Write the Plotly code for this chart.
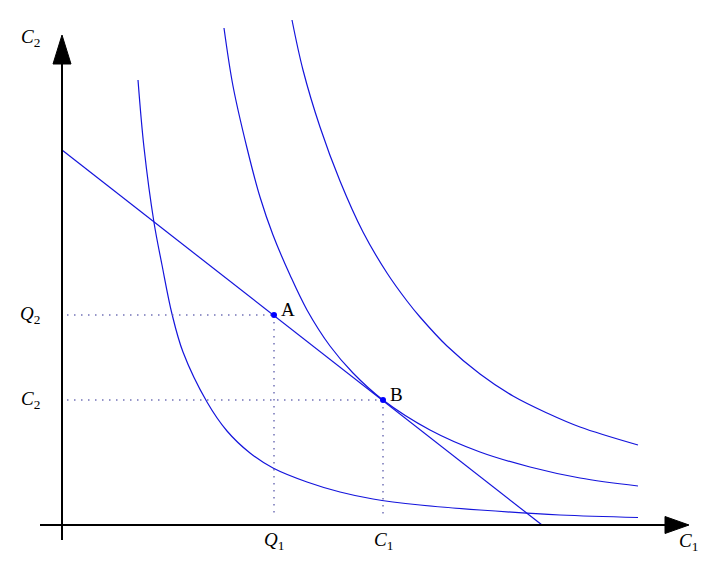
import plotly.graph_objects as go

# indifference curves (C1, C2)
curve_low_x = [1.52, 1.64, 1.84, 2.00, 2.20, 2.42, 2.90, 3.30, 3.76, 4.22, 4.90, 5.56,
               6.22, 7.16, 8.36, 9.96, 11.52]
curve_low_y = [8.90, 7.55, 6.05, 5.20, 4.22, 3.46, 2.46, 1.88, 1.44, 1.14, 0.86, 0.66,
               0.52, 0.40, 0.30, 0.20, 0.15]

curve_mid_x = [3.24, 3.42, 3.70, 3.96, 4.22, 4.56, 4.90, 5.36, 5.82, 6.42, 7.36, 8.36,
               9.36, 10.36, 11.52]
curve_mid_y = [9.94, 8.78, 7.54, 6.56, 5.80, 5.00, 4.30, 3.58, 3.04, 2.50, 1.90, 1.46,
               1.16, 0.94, 0.78]

curve_high_x = [4.60, 4.82, 5.16, 5.56, 6.02, 6.50, 6.90, 7.16, 7.70, 8.36, 9.02, 9.70,
                10.36, 11.52]
curve_high_y = [10.10, 9.10, 7.96, 6.88, 5.86, 5.04, 4.48, 4.16, 3.58, 3.02, 2.58, 2.24,
                1.96, 1.60]

# budget line
budget_x = [0.0, 9.6]
budget_y = [7.5, 0.0]

# points A and B
point_names = ["A", "B"]
point_x = [4.24, 6.42]
point_y = [4.20, 2.50]
x_tick_labels = ["<i>Q</i><sub>1</sub>", "<i>C</i><sub>1</sub>"]
y_tick_labels = ["<i>Q</i><sub>2</sub>", "<i>C</i><sub>2</sub>"]

BLUE = "#1414dc"
DOT = "rgba(100,100,175,0.9)"
FONT = dict(family="Liberation Serif, DejaVu Serif, serif", size=19, color="black")

fig = go.Figure()

for xs, ys in [(curve_low_x, curve_low_y), (curve_mid_x, curve_mid_y),
               (curve_high_x, curve_high_y), (budget_x, budget_y)]:
    fig.add_trace(go.Scatter(
        x=xs, y=ys, mode="lines",
        line=dict(color=BLUE, width=1.2, shape="spline", smoothing=1.0),
        hoverinfo="skip", showlegend=False,
    ))

# dotted guide lines
for px, py in zip(point_x, point_y):
    fig.add_trace(go.Scatter(
        x=[0.1, px], y=[py, py], mode="lines",
        line=dict(color=DOT, width=1.5, dash="1.5px,5.5px"), hoverinfo="skip", showlegend=False,
    ))
    fig.add_trace(go.Scatter(
        x=[px, px], y=[py, 0.14], mode="lines",
        line=dict(color=DOT, width=1.5, dash="1.5px,5.5px"), hoverinfo="skip", showlegend=False,
    ))

fig.add_trace(go.Scatter(
    x=point_x, y=point_y, mode="markers",
    marker=dict(color="#0000ff", size=6), showlegend=False,
))

# axes with arrow heads
fig.add_shape(type="line", x0=-0.44, y0=0, x1=12.15, y1=0, line=dict(color="black", width=2))
fig.add_shape(type="line", x0=0, y0=-0.3, x1=0, y1=9.25, line=dict(color="black", width=2))
fig.add_shape(type="path", path="M 12.06 -0.17 L 12.54 0 L 12.06 0.17 Z",
              fillcolor="black", line=dict(color="black", width=1))
fig.add_shape(type="path", path="M -0.18 9.22 L 0 9.8 L 0.18 9.22 Z",
              fillcolor="black", line=dict(color="black", width=1))

# labels
fig.add_annotation(x=-0.64, y=9.74, text="<i>C</i><sub>2</sub>", showarrow=False, font=FONT)
fig.add_annotation(x=12.52, y=-0.34, text="<i>C</i><sub>1</sub>", showarrow=False, font=FONT)
for px, py, name, xl, yl in zip(point_x, point_y, point_names, x_tick_labels, y_tick_labels):
    fig.add_annotation(x=px, y=-0.32, text=xl, showarrow=False, font=FONT)
    fig.add_annotation(x=-0.64, y=py, text=yl, showarrow=False, font=FONT)
    fig.add_annotation(x=px + 0.1, y=py + 0.12, text=name, showarrow=False,
                       xanchor="left", font=FONT)

# the page body adds an 8px offset, so ranges are shifted to compensate
fig.update_layout(
    width=712,
    height=561,
    margin=dict(l=0, r=0, t=0, b=0),
    plot_bgcolor="white",
    paper_bgcolor="white",
    xaxis=dict(range=[-1.08, 13.16], visible=False, fixedrange=True),
    yaxis=dict(range=[-0.88, 10.34], visible=False, fixedrange=True),
)

fig.write_html("out.html")
